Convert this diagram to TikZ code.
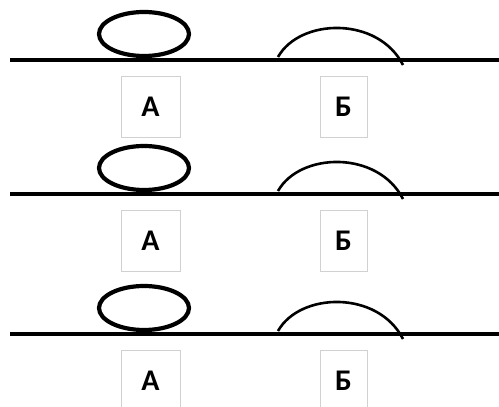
\documentclass[tikz,border=0pt]{standalone}
\usepackage{fontspec}
\setmainfont{Carlito}
\begin{document}
\begin{tikzpicture}[x=1pt,y=1pt,
  baseline/.style={line width=4pt},
  loop/.style={line width=4.2pt},
  bump/.style={line width=2.6pt},
  lbl/.style={draw=black!18,line width=0.8pt,inner sep=0pt,minimum height=61pt,font=\fontsize{30}{30}\selectfont\bfseries},
]
\useasboundingbox (0,0) rectangle (499,407);
\foreach \L/\i in {60/1,194/2,334/3}{
  \pgfmathsetmacro{\Y}{407-\L}
  \coordinate (ls\i) at (10,\Y);
  \coordinate (le\i) at (499,\Y);
  \draw[baseline] (ls\i) -- (le\i);
  \draw[loop] (144,\Y+26) ellipse [x radius=45, y radius=22];
  \coordinate (bs\i) at (278,\Y+3);
  \coordinate (be\i) at (403,\Y-5);
  \draw[bump] (bs\i) .. controls (300,\Y+42) and (378,\Y+44) .. (be\i);
  \node[lbl,minimum width=59pt] (a\i) at (150.5,\Y-46.5) {А};
  \node[lbl,minimum width=47pt] (b\i) at (343.5,\Y-46.5) {Б};
}
\end{tikzpicture}
\end{document}
